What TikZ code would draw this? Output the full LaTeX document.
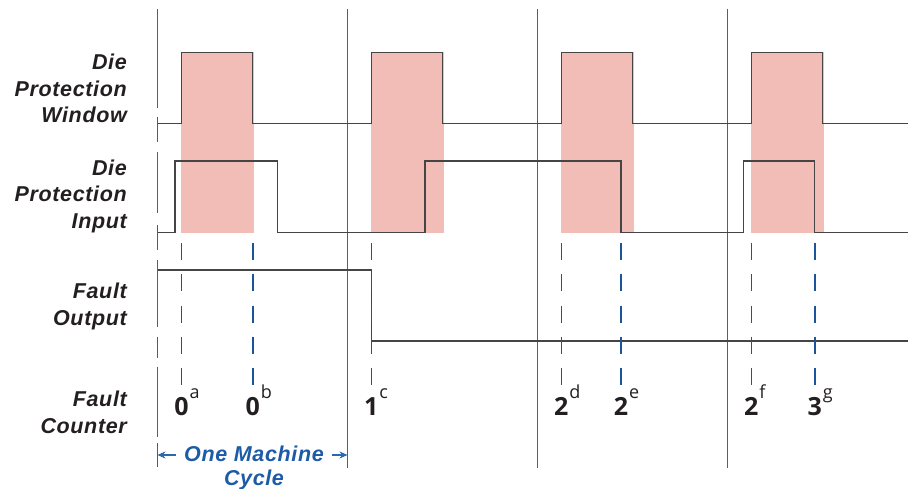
\documentclass[tikz,border=0pt]{standalone}
\usepackage{fontspec}
\setmainfont{Liberation Sans}
\newfontfamily\lblfont[LetterSpace=3.0]{Liberation Sans}
\newfontfamily\cntfont{Open Sans}
\usepackage{tikz}
\usetikzlibrary{arrows.meta}

\definecolor{cycblue}{HTML}{2A68B0}
\definecolor{dashblue}{HTML}{18559C}
\definecolor{txtblue}{HTML}{1D5BA6}
\definecolor{pinkwin}{HTML}{F3BDB7}
\definecolor{sigcol}{HTML}{454545}
\definecolor{tickcol}{HTML}{5A5A5A}
\definecolor{lblcol}{HTML}{231F20}

\begin{document}
\begin{tikzpicture}[x=1pt, y=-1pt,
  sig/.style={draw=sigcol, line width=1.2pt},
  cycline/.style={draw=cycblue, line width=1.2pt},
  tickline/.style={draw=tickcol, line width=1.1pt},
  dashline/.style={draw=dashblue, line width=1.6pt, dash pattern=on 17pt off 14.3pt},
  lbl/.style={anchor=base east, align=right, inner sep=0pt, text=lblcol,
    font=\lblfont\bfseries\itshape\fontsize{21.5}{26.5}\selectfont},
  cnt/.style={anchor=base, inner sep=0pt, text=lblcol,
    font=\cntfont\bfseries\fontsize{25}{25}\selectfont},
  cyc/.style={anchor=base, align=center, inner ysep=0pt, inner xsep=7.5pt, text=txtblue,
    font=\lblfont\bfseries\itshape\fontsize{21.5}{23.3}\selectfont},
  cycarrow/.style={draw=cycblue, line width=1.1pt, -{Stealth[length=8pt,width=7pt]}}]
\useasboundingbox (0,0) rectangle (908,489);

% die protection windows
\foreach \k in {0,...,3}
  \fill[pinkwin] (181+190*\k,52.3) rectangle (253.5+190*\k,232.7);

% machine cycle lines
\foreach \x in {347.5,537.5,727.5}
  \draw[cycline] (\x,9.5) -- (\x,467.5);
\foreach \a/\b in {9.5/108,151.7/213,260/326.7,366.7/436.7}
  \draw[cycline] (157.5,\a) -- (157.5,\b);
\foreach \a/\b in {117/141.7,225/250,336.7/358,443/467}
  \draw[tickline] (157.5,\a) -- (157.5,\b);

% signals
\draw[sig] (157.5,123.7) \foreach \k in {0,...,3} {
    -- (181.5+190*\k,123.7) -- (181.5+190*\k,52.3)
    -- (252.7+190*\k,52.3) -- (252.7+190*\k,123.7) } -- (908,123.7);
\draw[sig] (157.5,232.7) -| (175,161) -| (277.3,232.7) -| (425,161)
  -| (621,232.7) -| (743.3,161) -| (814.7,232.7) -- (908,232.7);
\draw[sig] (157.5,270) -| (371.3,341) -- (908,341);

% counter marks
\foreach \x/\n/\s [count=\i] in {181.5/0/a,252.7/0/b,371.3/1/c,561.3/2/d,621/2/e,751.3/2/f,814.7/3/g}{
  \draw[dashline] (\x,243) -- (\x,386);
  \node[cnt] (cnt\i) at (\x,415) {\n\rlap{\kern1pt\raisebox{17pt}{\cntfont\mdseries\fontsize{18}{18}\selectfont\s}}};
}

% row labels
\node[lbl] (winlbl) at (127,122.7) {Die\\Protection\\Window};
\node[lbl] (inlbl) at (127,228.3) {Die\\Protection\\Input};
\node[lbl] (outlbl) at (127,325) {Fault\\Output};
\node[lbl] (cntlbl) at (127,433.3) {Fault\\Counter};

% one machine cycle
\node[cyc] (mcyc) at (254,485) {One Machine\\Cycle};
\coordinate (cycL) at (157.5,455);
\coordinate (cycR) at (347.5,455);
\draw[cycarrow] (mcyc.west |- cycL) -- (cycL);
\draw[cycarrow] (mcyc.east |- cycR) -- (cycR);
\end{tikzpicture}
\end{document}
